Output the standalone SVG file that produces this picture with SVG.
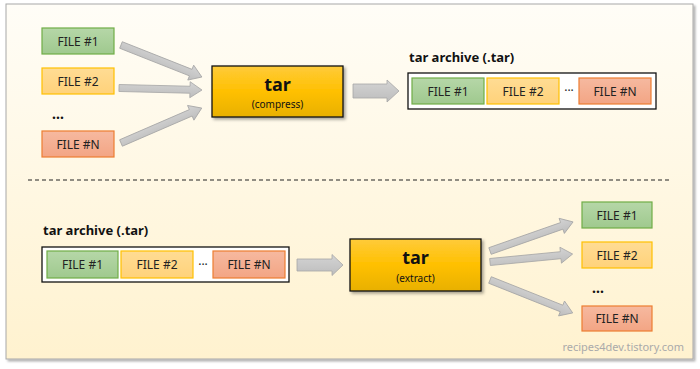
<svg xmlns="http://www.w3.org/2000/svg" width="700" height="369" viewBox="0 0 700 369">
<defs>
<linearGradient id="bg" x1="0" y1="0" x2="0" y2="1"><stop offset="0" stop-color="#fffdf7"/><stop offset="1" stop-color="#fff2cf"/></linearGradient>
<linearGradient id="gG" x1="0" y1="0" x2="0" y2="1"><stop offset="0" stop-color="#b6d7a8"/><stop offset="1" stop-color="#9fc98e"/></linearGradient>
<linearGradient id="gY" x1="0" y1="0" x2="0" y2="1"><stop offset="0" stop-color="#ffdc94"/><stop offset="1" stop-color="#ffd27a"/></linearGradient>
<linearGradient id="gR" x1="0" y1="0" x2="0" y2="1"><stop offset="0" stop-color="#f6b9a0"/><stop offset="1" stop-color="#f3a584"/></linearGradient>
<linearGradient id="gT" x1="0" y1="0" x2="0" y2="1"><stop offset="0" stop-color="#ffcb3a"/><stop offset="0.5" stop-color="#ffc000"/><stop offset="1" stop-color="#e8b000"/></linearGradient>
<linearGradient id="gA" x1="0" y1="0" x2="0" y2="1"><stop offset="0" stop-color="#d4d4d4"/><stop offset="1" stop-color="#bdbdbd"/></linearGradient>
<filter id="sh" x="-10%" y="-10%" width="130%" height="140%"><feDropShadow dx="2" dy="2" stdDeviation="1.5" flood-color="#000" flood-opacity="0.35"/></filter>
<filter id="psh" x="-5%" y="-5%" width="110%" height="110%"><feDropShadow dx="2" dy="2" stdDeviation="1.2" flood-color="#000" flood-opacity="0.3"/></filter>
</defs>
<style>
.f{font-family:"Noto Sans","Open Sans","Liberation Sans",sans-serif;}
.lbl{font-size:12px;fill:#222;text-anchor:middle;}
.g{fill:url(#gG);stroke:#70ad47;stroke-width:1.2;}
.y{fill:url(#gY);stroke:#ffc000;stroke-width:1.2;}
.r{fill:url(#gR);stroke:#ed7d31;stroke-width:1.2;}
.tar{fill:url(#gT);stroke:#111;stroke-width:1.3;}
.big{font-size:18px;font-weight:bold;fill:#111;text-anchor:middle;}
.sub{font-size:10px;fill:#111;text-anchor:middle;}
.ttl{font-size:13px;font-weight:bold;fill:#111;}
.arw{fill:url(#gA);stroke:#a6a6a6;stroke-width:0.8;}
.dots{font-size:14px;font-weight:bold;fill:#111;}
</style>
<rect x="6" y="4" width="687" height="355" fill="url(#bg)" stroke="#a8a8a8" stroke-width="1" filter="url(#psh)"/>
<line x1="28" y1="180" x2="670" y2="180" stroke="#222" stroke-width="1.2" stroke-dasharray="4,3"/>

<g id="connectors">
<path class="arw" transform="translate(121,45) rotate(21.6)" d="M0,-3.5 L75,-3.5 L75,-8 L87,0 L75,8 L75,3.5 L0,3.5 Z"/>
<path class="arw" transform="translate(119,88) rotate(1.4)" d="M0,-3.5 L71,-3.5 L71,-8 L83,0 L71,8 L71,3.5 L0,3.5 Z"/>
<path class="arw" transform="translate(121,143) rotate(-23.4)" d="M0,-3.5 L76,-3.5 L76,-8 L88,0 L76,8 L76,3.5 L0,3.5 Z"/>
<path class="arw" transform="translate(353,91)" d="M0,-7 L34,-7 L34,-11 L46,0 L34,11 L34,7 L0,7 Z"/>
<path class="arw" transform="translate(297,265)" d="M0,-6 L35,-6 L35,-10.5 L46,0 L35,10.5 L35,6 L0,6 Z"/>
<path class="arw" transform="translate(490,251) rotate(-19.3)" d="M0,-3.5 L76,-3.5 L76,-8 L88,0 L76,8 L76,3.5 L0,3.5 Z"/>
<path class="arw" transform="translate(490,262) rotate(-5.5)" d="M0,-3.5 L71,-3.5 L71,-8 L83,0 L71,8 L71,3.5 L0,3.5 Z"/>
<path class="arw" transform="translate(490,280) rotate(21.7)" d="M0,-3.5 L77,-3.5 L77,-8 L89,0 L77,8 L77,3.5 L0,3.5 Z"/>
</g>

<g id="in-file1" class="f"><rect class="g" x="42" y="28" width="72" height="26"/><text class="lbl" x="78" y="45.5">FILE #1</text></g>
<g id="in-file2" class="f"><rect class="y" x="42" y="68" width="72" height="26"/><text class="lbl" x="78" y="85.5">FILE #2</text></g>
<g id="in-dots" class="f"><text class="dots" x="52" y="119">…</text></g>
<g id="in-fileN" class="f"><rect class="r" x="42" y="131" width="72" height="26"/><text class="lbl" x="78" y="148.5">FILE #N</text></g>

<g id="tar-compress" class="f"><rect class="tar" x="212" y="66" width="131" height="51" filter="url(#sh)"/><text class="big" x="277.5" y="91">tar</text><text class="sub" x="277.5" y="108">(compress)</text></g>

<g id="archive-top" class="f">
<text class="ttl" x="409" y="62">tar archive (.tar)</text>
<rect x="408" y="73" width="248" height="36" fill="#fff" stroke="#111" stroke-width="1.3"/>
<rect class="g" x="412" y="78" width="72" height="26"/><text class="lbl" x="448" y="95.5">FILE #1</text>
<rect class="y" x="487" y="78" width="72" height="26"/><text class="lbl" x="523" y="95.5">FILE #2</text>
<text class="lbl" x="569" y="95">···</text>
<rect class="r" x="579" y="78" width="72" height="26"/><text class="lbl" x="615" y="95.5">FILE #N</text>
</g>

<g id="archive-bottom" class="f">
<text class="ttl" x="43" y="235">tar archive (.tar)</text>
<rect x="42" y="247" width="247" height="35" fill="#fff" stroke="#111" stroke-width="1.3"/>
<rect class="g" x="47" y="251" width="71" height="27"/><text class="lbl" x="82.5" y="269">FILE #1</text>
<rect class="y" x="121" y="251" width="72" height="27"/><text class="lbl" x="157" y="269">FILE #2</text>
<text class="lbl" x="203" y="268.5">···</text>
<rect class="r" x="213" y="251" width="72" height="27"/><text class="lbl" x="249" y="269">FILE #N</text>
</g>

<g id="tar-extract" class="f"><rect class="tar" x="350" y="239" width="131" height="52" filter="url(#sh)"/><text class="big" x="415.5" y="264">tar</text><text class="sub" x="415.5" y="282">(extract)</text></g>

<g id="out-file1" class="f"><rect class="g" x="582" y="202" width="70" height="26"/><text class="lbl" x="617" y="219.5">FILE #1</text></g>
<g id="out-file2" class="f"><rect class="y" x="582" y="242" width="70" height="26"/><text class="lbl" x="617" y="259.5">FILE #2</text></g>
<g id="out-dots" class="f"><text class="dots" x="592" y="293">…</text></g>
<g id="out-fileN" class="f"><rect class="r" x="582" y="306" width="70" height="25"/><text class="lbl" x="617" y="323">FILE #N</text></g>

<text class="f" x="684" y="351" font-size="11" fill="#aaaaaa" text-anchor="end">recipes4dev.tistory.com</text>
</svg>
